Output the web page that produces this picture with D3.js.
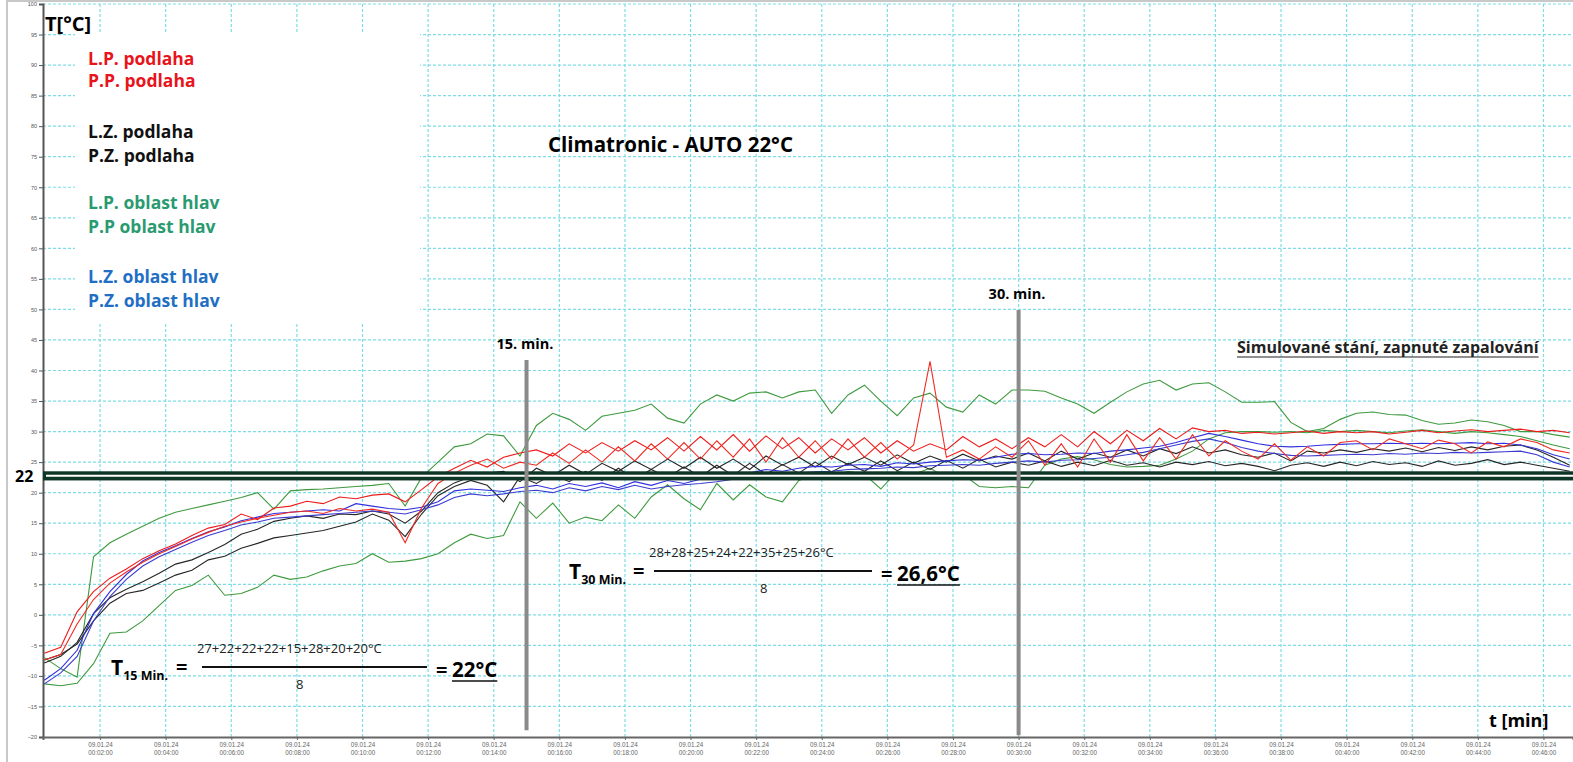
<!DOCTYPE html>
<html>
<head>
<meta charset="utf-8">
<script src="https://cdn.jsdelivr.net/npm/d3@7"></script>
<style>
body { margin: 0; background: #fff; }
svg { display: block; font-family: "Open Sans", sans-serif; }
</style>
</head>
<body>
<svg></svg>
<script>
var width = 1573
var height = 762

// time in minutes for every sample
var times = [0.3,0.8,1.3,1.8,2.3,2.8,3.3,3.8,4.3,4.8,
	5.3,5.8,6.3,6.8,7.3,7.8,8.3,8.8,9.3,9.8,
	10.3,10.8,11.3,11.8,12.3,12.8,13.3,13.8,14.3,14.8,
	15.3,15.8,16.3,16.8,17.3,17.8,18.3,18.8,19.3,19.8,
	20.3,20.8,21.3,21.8,22.3,22.8,23.3,23.8,24.3,24.8,
	25.3,25.8,26.3,26.8,27.3,27.8,28.3,28.8,29.3,29.8,
	30.3,30.8,31.3,31.8,32.3,32.8,33.3,33.8,34.3,34.8,
	35.3,35.8,36.3,36.8,37.3,37.8,38.3,38.8,39.3,39.8,
	40.3,40.8,41.3,41.8,42.3,42.8,43.3,43.8,44.3,44.8,
	45.3,45.8,46.3,46.8]

var greenA = [-7.0,-8.8,-10.2,9.5,11.8,13.2,14.5,15.8,16.8,17.4,
	18.0,18.6,19.2,20.0,17.3,20.3,20.5,20.6,20.8,21.0,
	21.2,21.5,17.8,22.5,25.0,27.5,28.0,29.6,29.3,26.0,
	31.0,33.0,32.0,30.2,32.5,33.0,33.5,34.5,32.2,31.4,
	34.5,36.0,35.0,36.3,36.5,35.5,36.5,36.8,33.0,36.0,
	37.6,35.0,32.6,35.5,36.3,34.0,33.2,36.0,34.5,36.8,
	36.8,36.6,35.5,34.5,33.0,34.8,36.5,37.8,38.4,36.8,
	37.8,38.0,36.5,34.8,34.8,34.9,31.5,30.0,30.5,32.0,
	33.0,33.2,32.8,32.7,31.8,31.2,31.4,31.9,31.6,31.0,
	30.0,30.0,29.5,29.1]

var greenB = [-11.3,-11.6,-11.2,-8.0,-3.0,-2.8,-1.0,1.5,4.0,4.8,
	6.5,3.2,3.5,4.5,6.5,5.8,6.2,7.2,8.0,8.4,
	10.0,8.6,8.8,9.2,10.0,11.8,13.2,12.5,13.0,18.5,
	15.8,18.3,15.0,16.0,15.4,18.0,15.8,19.3,21.3,19.0,
	17.2,21.5,18.8,21.3,19.3,18.5,22.0,23.0,22.5,23.5,
	23.0,20.6,23.5,23.0,24.0,22.5,23.0,21.0,20.8,21.0,
	20.8,24.5,25.5,25.9,25.4,24.6,24.2,24.3,24.5,25.5,
	26.8,28.8,29.8,30.0,30.0,29.9,30.0,29.8,30.2,30.0,
	30.2,30.0,29.8,30.1,30.3,30.0,29.7,30.0,29.8,29.5,
	29.2,28.5,27.8,27.2]

var redA = [-6.3,-5.3,0.5,3.8,6.0,7.5,9.2,10.5,11.6,13.0,
	14.2,14.8,16.5,15.6,17.5,17.8,18.6,18.2,19.3,19.0,
	19.6,19.8,18.5,20.5,22.6,24.0,25.3,24.2,25.8,26.5,
	27.0,26.0,28.0,26.5,28.2,26.8,28.5,27.0,29.0,26.8,
	29.2,27.0,29.5,26.8,29.3,27.2,29.0,26.5,28.8,27.0,
	29.0,26.5,28.5,26.8,28.0,27.0,29.2,27.5,28.8,27.2,
	29.0,27.5,29.5,27.5,30.0,28.0,30.2,28.5,30.5,28.8,
	30.6,30.0,30.2,29.7,29.9,29.6,29.8,30.1,29.7,30.0,
	29.8,30.0,29.6,29.9,30.2,29.8,30.1,30.3,30.0,30.2,
	30.4,30.0,30.2,29.8]

var redB = [-7.4,-6.5,-1.5,2.5,5.2,7.0,8.6,10.0,11.2,12.4,
	13.5,14.5,15.2,15.8,16.3,16.8,17.0,16.6,17.4,17.0,
	17.3,16.8,11.8,17.5,21.5,23.2,24.5,25.5,24.0,25.0,
	24.5,26.5,24.8,27.0,25.0,27.5,25.2,28.0,25.5,28.2,
	25.5,28.5,25.8,28.8,25.0,29.0,25.8,28.5,25.5,28.8,
	25.8,28.2,25.5,27.8,41.5,25.8,27.0,25.5,27.5,25.8,
	28.5,24.5,28.0,24.2,28.8,25.0,29.5,25.2,29.0,25.5,
	29.5,26.0,28.5,26.8,25.5,28.0,25.3,27.5,26.0,28.2,
	28.5,27.0,28.8,28.0,27.2,28.6,28.0,26.5,28.3,27.5,
	28.8,28.2,27.0,26.5]

var blackA = [-7.9,-6.8,-4.5,0.2,2.8,4.2,5.4,6.8,8.3,9.0,
	10.2,11.5,13.2,14.0,15.3,15.8,16.2,15.8,16.5,16.4,
	17.0,16.5,15.0,17.0,20.0,21.6,22.6,23.2,23.5,21.8,
	24.0,22.8,24.5,23.0,24.8,23.5,25.2,23.8,25.5,24.0,
	25.8,24.0,25.5,23.8,26.0,24.5,25.8,24.2,26.0,24.6,
	25.8,24.5,26.2,24.8,26.0,25.0,26.3,25.2,26.0,25.5,
	26.5,25.2,26.8,25.5,26.5,25.8,27.0,26.0,27.2,26.4,
	27.5,26.5,27.0,26.2,25.8,26.5,25.2,26.8,26.5,27.0,
	26.6,27.2,26.8,27.3,26.7,27.4,26.9,27.5,27.0,27.6,
	27.8,27.0,25.8,24.5]

var blackB = [-7.4,-6.5,-4.8,-1.0,1.9,3.5,4.0,5.2,6.5,7.3,
	9.0,9.6,10.9,11.7,12.6,13.0,13.4,13.8,14.5,15.2,
	16.5,15.5,12.8,16.5,19.5,21.0,22.0,21.2,18.5,22.6,
	21.5,23.0,21.8,23.5,22.0,24.0,22.2,23.8,22.5,24.2,
	22.6,24.5,22.8,24.8,23.0,24.6,23.2,25.0,23.4,24.8,
	23.5,25.2,23.6,25.0,23.8,25.3,24.0,25.5,24.2,25.0,
	24.5,25.2,24.3,25.0,24.4,25.3,24.5,24.9,24.2,25.0,
	24.6,25.1,24.4,24.8,24.3,23.6,24.5,24.9,24.3,25.0,
	24.4,25.1,24.6,24.9,24.3,25.2,24.5,24.8,25.4,24.6,
	25.0,24.5,24.0,23.5]

var blueA = [-10.7,-8.8,-5.8,0.2,3.8,6.6,8.8,10.2,11.3,12.5,
	13.6,14.4,15.4,16.0,16.6,16.8,17.0,17.2,17.0,18.2,
	17.8,17.4,17.2,17.6,18.5,20.3,20.6,20.4,20.2,20.8,
	21.2,20.6,21.5,21.0,21.6,20.8,21.8,21.2,22.0,21.5,
	22.2,22.6,22.8,23.2,23.8,23.5,24.0,24.3,24.2,24.5,
	24.6,24.3,24.9,24.7,25.0,25.2,25.4,25.3,25.8,26.3,
	26.4,26.2,26.3,26.5,26.4,26.8,27.0,27.3,27.6,28.2,
	29.0,29.7,29.2,28.6,28.0,27.6,27.5,27.6,27.8,27.9,
	28.0,28.0,28.1,28.0,28.1,28.0,28.1,28.2,28.0,28.1,
	27.8,27.2,26.2,25.5]

var blueB = [-11.3,-9.5,-6.8,-1.0,3.0,5.8,8.0,9.5,10.7,11.9,
	13.0,13.8,14.7,15.2,15.8,16.0,16.2,16.4,16.6,16.8,
	17.0,16.8,16.5,17.2,18.0,19.2,19.8,19.5,19.8,20.2,
	20.4,20.0,20.8,20.3,21.0,20.5,21.2,20.6,21.0,21.3,
	21.5,21.8,22.2,22.6,22.8,23.0,23.2,23.4,23.5,23.8,
	23.9,24.0,24.2,24.1,24.4,24.5,24.6,24.5,24.8,25.0,
	25.2,25.0,25.3,25.4,25.6,25.8,26.2,26.6,27.2,27.8,
	28.4,28.8,28.2,27.4,26.8,26.4,26.1,26.0,26.1,26.2,
	26.3,26.2,26.4,26.3,26.5,26.4,26.6,26.5,26.6,26.7,
	26.8,26.2,25.0,24.2]

var seriesList = [
	{values: greenA, color: "#3f9a3f"},
	{values: greenB, color: "#3f9a3f"},
	{values: blackA, color: "#262626"},
	{values: blackB, color: "#262626"},
	{values: blueA, color: "#3030dd"},
	{values: blueB, color: "#3b3bd0"},
	{values: redA, color: "#ee1c1c"},
	{values: redB, color: "#f22a22"}
]

var legendLabels = ["L.P. podlaha", "P.P. podlaha", "L.Z. podlaha", "P.Z. podlaha",
	"L.P. oblast hlav", "P.P oblast hlav", "L.Z. oblast hlav", "P.Z. oblast hlav"]
var legendColors = ["#e8141c", "#e8141c", "#111111", "#111111",
	"#2a9a70", "#2a9a70", "#1f6fc4", "#1f6fc4"]

var yTicks = [-20,-15,-10,-5,0,5,10,15,20,25,30,35,40,45,50,55,60,65,70,75,80,85,90,95,100]
var xTicks = [2,4,6,8,10,12,14,16,18,20,22,24,26,28,30,32,34,36,38,40,42,44,46]
var dateLabel = "09.01.24"

// vertical marker lines, top and bottom in degrees
var markers = [{t: 15, label: "15. min.", top: 41.7, bottom: -18.9}, {t: 30, label: "30. min.", top: 49.9, bottom: -19.7}]
var refLine = [22, 23.5]

var svg = d3.select("svg")
	.attr("width", width)
	.attr("height", height)

var xScale = d3.scaleLinear()
	.domain([0.26, 46.9])
	.range([43, 1573])

var yScale = d3.scaleLinear()
	.domain([-20, 100])
	.range([737, 4])

// outer frame of the screenshot
svg.append("rect")
	.attr("x", 7).attr("y", 1)
	.attr("width", width).attr("height", height + 5)
	.attr("fill", "none")
	.attr("stroke", "#c8c8c8")
	.attr("stroke-width", 2)

// grid
svg.append("g")
	.selectAll("line")
	.data(yTicks.filter(function(d){ return d > -20 }))
	.join("line")
	.attr("x1", 43).attr("x2", width)
	.attr("y1", function(d){ return yScale(d) })
	.attr("y2", function(d){ return yScale(d) })
	.attr("stroke", "#7ddde6")
	.attr("stroke-width", 1.2)
	.attr("stroke-dasharray", "3,2")

svg.append("g")
	.selectAll("line")
	.data(xTicks)
	.join("line")
	.attr("x1", function(d){ return xScale(d) })
	.attr("x2", function(d){ return xScale(d) })
	.attr("y1", yScale(100)).attr("y2", yScale(-20))
	.attr("stroke", "#7ddde6")
	.attr("stroke-width", 1.2)
	.attr("stroke-dasharray", "3,2")

// legend box covers the grid
svg.append("rect")
	.attr("x", 75).attr("y", 34)
	.attr("width", 345).attr("height", 288)
	.attr("fill", "#fff")

// axes
var yAxis = d3.axisLeft(yScale)
	.tickValues(yTicks)
	.tickSize(4)
	.tickPadding(2)

var yG = svg.append("g")
	.attr("transform", "translate(43,0)")
	.call(yAxis)
yG.select(".domain").attr("stroke", "#555").attr("stroke-width", 2)
yG.selectAll(".tick line").attr("stroke", "#555")
yG.selectAll(".tick text").attr("font-size", 5.5).attr("fill", "#555")

var xAxis = d3.axisBottom(xScale)
	.tickValues(xTicks)
	.tickSize(3)
	.tickFormat("")

var xG = svg.append("g")
	.attr("transform", "translate(0,737)")
	.call(xAxis)
xG.select(".domain").attr("stroke", "#666").attr("stroke-width", 2)
xG.selectAll(".tick line").attr("stroke", "#666")

var xLab = xG.selectAll(".tick").append("text")
	.attr("fill", "#666")
	.attr("font-size", 6.3)
	.attr("text-anchor", "middle")
xLab.append("tspan").attr("x", 0).attr("y", 10).text(dateLabel)
xLab.append("tspan").attr("x", 0).attr("y", 18).text(function(d){
	return "00:" + d3.format("02")(d) + ":00"
})

// data lines
var line = d3.line()
	.x(function(d, i){ return xScale(times[i]) })
	.y(function(d){ return yScale(d) })

svg.append("g")
	.selectAll("path")
	.data(seriesList)
	.join("path")
	.attr("d", function(d){ return line(d.values) })
	.attr("fill", "none")
	.attr("stroke", function(d){ return d.color })
	.attr("stroke-width", 1.1)

// 22 degree band
svg.append("rect")
	.attr("x", 43)
	.attr("y", yScale(refLine[1]))
	.attr("width", width - 43)
	.attr("height", yScale(refLine[0]) - yScale(refLine[1]))
	.attr("fill", "#0f3526")
svg.append("line")
	.attr("x1", 46).attr("x2", width)
	.attr("y1", yScale((refLine[0] + refLine[1]) / 2))
	.attr("y2", yScale((refLine[0] + refLine[1]) / 2))
	.attr("stroke", "#ffffff")
	.attr("stroke-width", 2)
svg.append("text")
	.attr("x", 15).attr("y", 482)
	.attr("font-size", 16).attr("font-weight", 700)
	.text("22")

// minute markers
var mk = svg.append("g").selectAll("g")
	.data(markers)
	.join("g")
mk.append("line")
	.attr("x1", function(d){ return xScale(d.t) })
	.attr("x2", function(d){ return xScale(d.t) })
	.attr("y1", function(d){ return yScale(d.top) })
	.attr("y2", function(d){ return yScale(d.bottom) })
	.attr("stroke", "#8a8a8a")
	.attr("stroke-width", 4)
mk.append("text")
	.attr("x", function(d){ return xScale(d.t) - 30 })
	.attr("y", function(d){ return yScale(d.top) - 11 })
	.attr("font-size", 14.5).attr("font-weight", 700)
	.text(function(d){ return d.label })

// legend
svg.append("g")
	.selectAll("text")
	.data(legendLabels)
	.join("text")
	.attr("x", 88)
	.attr("y", function(d, i){ return [65, 87, 138, 162, 209, 233, 283, 307][i] })
	.attr("font-size", 17.5)
	.attr("font-weight", 700)
	.attr("fill", function(d, i){ return legendColors[i] })
	.text(function(d){ return d })

// titles
svg.append("text").attr("x", 45).attr("y", 31)
	.attr("font-size", 20).attr("font-weight", 700).text("T[°C]")
svg.append("text").attr("x", 548).attr("y", 152)
	.attr("font-size", 20.5).attr("font-weight", 700).text("Climatronic - AUTO 22°C")
var sim = svg.append("text").attr("x", 1237).attr("y", 353)
	.attr("font-size", 16).attr("font-weight", 700).attr("fill", "#222")
	.text("Simulované stání, zapnuté zapalování")
var simW = sim.node().getComputedTextLength()
svg.append("line").attr("x1", 1237).attr("x2", 1237 + simW).attr("y1", 357).attr("y2", 357)
	.attr("stroke", "#222").attr("stroke-width", 1.2)
svg.append("text").attr("x", 1489).attr("y", 727)
	.attr("font-size", 18).attr("font-weight", 700).text("t [min]")

// formulas
function formula(f){
	var g = svg.append("g")
	var t = g.append("text").attr("x", f.x).attr("y", f.y)
		.attr("font-size", 21).attr("font-weight", 700)
	t.append("tspan").text("T")
	t.append("tspan").attr("font-size", 12.5).attr("dy", 5).text(f.sub)
	g.append("text").attr("x", f.eq1).attr("y", f.y - 1)
		.attr("font-size", 20).attr("font-weight", 700).text("=")
	g.append("line").attr("x1", f.l1).attr("x2", f.l2)
		.attr("y1", f.y - 8).attr("y2", f.y - 8)
		.attr("stroke", "#111").attr("stroke-width", 2)
	g.append("text").attr("x", f.l1 - 5).attr("y", f.y - 22)
		.attr("font-size", 13).attr("fill", "#222").text(f.num)
	g.append("text").attr("x", f.den).attr("y", f.y + 14)
		.attr("font-size", 13).attr("fill", "#222").text("8")
	g.append("text").attr("x", f.eq2).attr("y", f.y + 2)
		.attr("font-size", 20).attr("font-weight", 700).text("=")
	var r = g.append("text").attr("x", f.eq2 + 16).attr("y", f.y + 2)
		.attr("font-size", 20.5).attr("font-weight", 700).text(f.res)
	var w = r.node().getComputedTextLength()
	g.append("line").attr("x1", f.eq2 + 16).attr("x2", f.eq2 + 16 + w)
		.attr("y1", f.y + 6).attr("y2", f.y + 6)
		.attr("stroke", "#111").attr("stroke-width", 1.5)
}

formula({x: 111, y: 675, sub: "15 Min.", eq1: 176, l1: 202, l2: 427,
	num: "27+22+22+22+15+28+20+20°C", den: 296, eq2: 436, res: "22°C"})
formula({x: 569, y: 579, sub: "30 Min.", eq1: 633, l1: 654, l2: 872,
	num: "28+28+25+24+22+35+25+26°C", den: 760, eq2: 881, res: "26,6°C"})
</script>
</body>
</html>
